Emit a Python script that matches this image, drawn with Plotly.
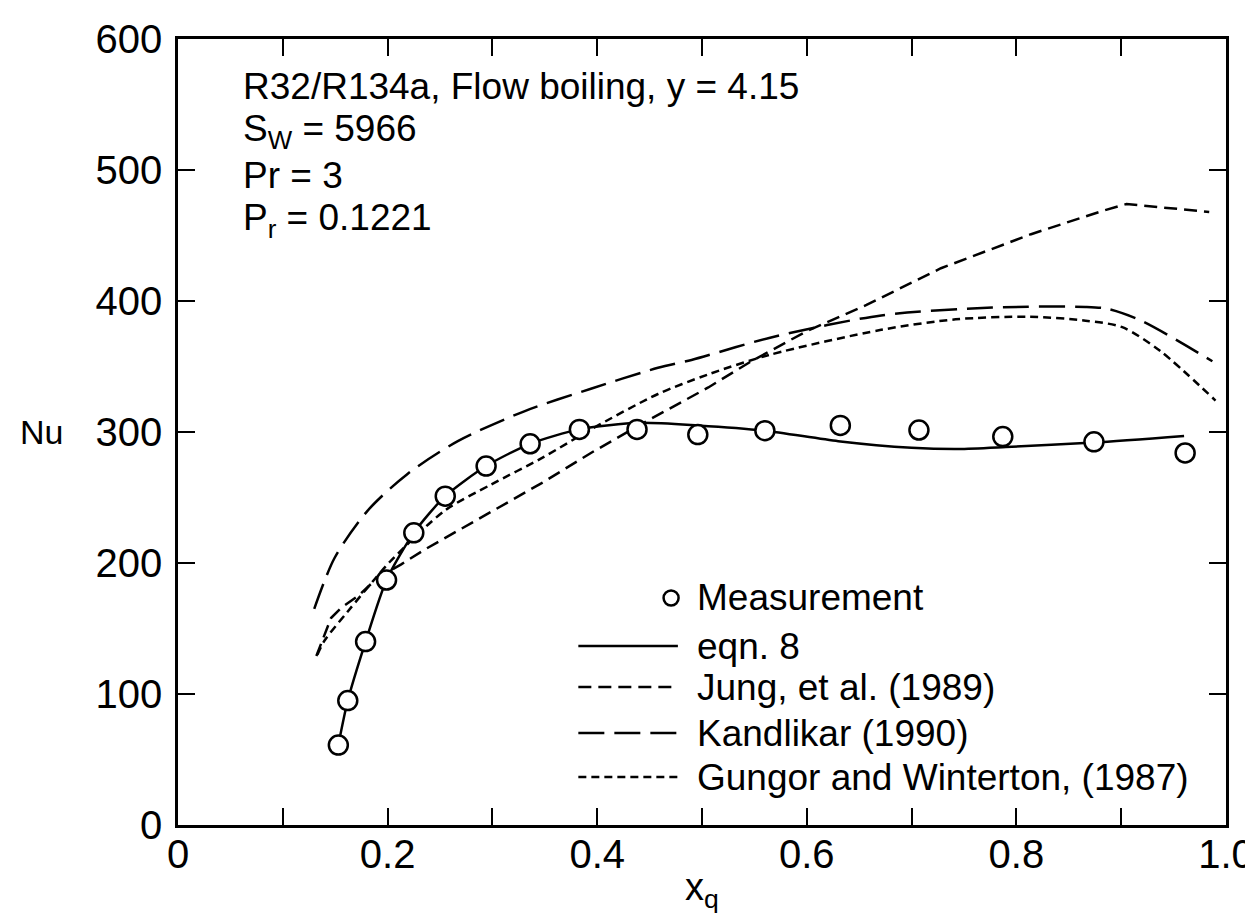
import plotly.graph_objects as go

# ---------------- data ----------------
meas_x = [0.153, 0.162, 0.179, 0.199, 0.225, 0.255, 0.294, 0.336, 0.383, 0.438, 0.496,
          0.560, 0.632, 0.707, 0.787, 0.874, 0.961]
meas_y = [61, 95, 140, 187, 223, 251, 274, 291, 302, 302, 298,
          301, 305, 301.5, 296.5, 292.5, 284]

eqn8_x = [0.153, 0.162, 0.179, 0.199, 0.225, 0.255, 0.294, 0.336, 0.383, 0.44, 0.496,
          0.56, 0.63, 0.70, 0.745, 0.79, 0.874, 0.96]
eqn8_y = [61, 95, 140, 187, 223, 251, 274, 291, 302, 307, 305,
          301, 293, 288, 287, 288.5, 292, 297]

jung_x = [0.132, 0.146, 0.156, 0.172, 0.191, 0.213, 0.237, 0.2545, 0.299, 0.347, 0.394,
          0.442, 0.506, 0.547, 0.600, 0.657, 0.728, 0.814, 0.881, 0.905, 0.984]
jung_y = [129, 158, 166, 175, 189, 199, 211, 219, 239, 261, 284,
          306, 334, 354, 377, 397, 425, 451, 468.5, 474, 468]

kand_x = [0.130, 0.1495, 0.181, 0.219, 0.267, 0.331, 0.394, 0.458, 0.49, 0.565,
          0.671, 0.777, 0.866, 0.887, 0.919, 0.987]
kand_y = [165, 204, 240, 268, 293, 316, 333, 349, 355, 372,
          389, 395, 395.5, 394, 385, 354]

gung_x = [0.133, 0.140, 0.162, 0.188, 0.2035, 0.2545, 0.299, 0.347, 0.394, 0.458, 0.506,
          0.565, 0.671, 0.742, 0.813, 0.866, 0.901, 0.937, 0.99]
gung_y = [130, 141, 163, 188, 202, 240, 260, 280, 302, 329, 344,
          359, 378, 386, 388, 385, 380, 362, 324]

x_tickvals = [0, 0.2, 0.4, 0.6, 0.8, 1.0]
x_ticktext = ["0", "0.2", "0.4", "0.6", "0.8", "1.0"]
y_tickvals = [0, 100, 200, 300, 400, 500, 600]

info_lines = ["R32/R134a, Flow boiling, y = 4.15",
              "S<sub>W</sub> = 5966",
              "Pr = 3",
              "P<sub>r</sub> = 0.1221"]
legend_names = ["Measurement", "eqn. 8", "Jung, et al. (1989)",
                "Kandlikar (1990)", "Gungor and Winterton, (1987)"]

# ---------------- styles ----------------
FONT = "Liberation Sans, Arial, Helvetica, sans-serif"
LW = 2.5
dash_jung = "13px,7px"
dash_kand = "26px,10px"
dash_gung = "8px,5px"

fig = go.Figure()

fig.add_trace(go.Scatter(x=jung_x, y=jung_y, mode="lines", name=legend_names[2],
                         line=dict(color="black", width=LW, dash=dash_jung),
                         showlegend=False))
fig.add_trace(go.Scatter(x=kand_x, y=kand_y, mode="lines", name=legend_names[3],
                         line=dict(color="black", width=LW, dash=dash_kand, shape="spline",
                                   smoothing=0.8),
                         showlegend=False))
fig.add_trace(go.Scatter(x=gung_x, y=gung_y, mode="lines", name=legend_names[4],
                         line=dict(color="black", width=LW, dash=dash_gung, shape="spline",
                                   smoothing=0.8),
                         showlegend=False))
fig.add_trace(go.Scatter(x=eqn8_x, y=eqn8_y, mode="lines", name=legend_names[1],
                         line=dict(color="black", width=LW, shape="spline", smoothing=0.7),
                         showlegend=False))
fig.add_trace(go.Scatter(x=meas_x, y=meas_y, mode="markers", name=legend_names[0],
                         marker=dict(symbol="circle", size=19, color="white",
                                     line=dict(color="black", width=2.5)),
                         showlegend=False))

# ---------- manual legend (positions in data coordinates) ----------
leg_rows = [173.3, 136.6, 105.3, 70.2, 36.6]
leg_x0, leg_x1, leg_tx = 0.382, 0.477, 0.493
dashes = [None, "solid", dash_jung, dash_kand, dash_gung]
shapes = []
annotations = []
for i, name in enumerate(legend_names):
    yv = leg_rows[i]
    if i == 0:
        shapes.append(dict(type="circle", xref="x", yref="y", xsizemode="pixel",
                           ysizemode="pixel", xanchor=0.4705, yanchor=yv,
                           x0=-7.5, x1=7.5, y0=-7.5, y1=7.5,
                           line=dict(color="black", width=2.5), fillcolor="white"))
    else:
        shapes.append(dict(type="line", xref="x", yref="y", x0=leg_x0, x1=leg_x1,
                           y0=yv, y1=yv, line=dict(color="black", width=LW, dash=dashes[i])))
    annotations.append(dict(x=leg_tx, y=yv, xref="x", yref="y", text=name,
                            showarrow=False, xanchor="left", yanchor="middle",
                            font=dict(family=FONT, size=37, color="black")))

info_y = [563.5, 530, 495.5, 462]
for t, yv in zip(info_lines, info_y):
    annotations.append(dict(x=0.060, y=yv, xref="x", yref="y", text=t,
                            showarrow=False, xanchor="left", yanchor="middle",
                            font=dict(family=FONT, size=37, color="black")))

annotations.append(dict(x=-0.130, y=300, xref="paper", yref="y", text="Nu",
                        showarrow=False, xanchor="center", yanchor="middle",
                        font=dict(family=FONT, size=34, color="black")))
annotations.append(dict(x=0.5, y=-0.05, xref="paper", yref="paper", text="x<sub>q</sub>",
                        showarrow=False, xanchor="center", yanchor="top",
                        font=dict(family=FONT, size=38, color="black")))

axis_common = dict(showline=True, linecolor="black", linewidth=2.5, mirror="ticks",
                   ticks="inside", ticklen=17, tickwidth=2, tickcolor="black",
                   showgrid=False, zeroline=False, automargin=False,
                   tickfont=dict(family=FONT, size=40, color="black"))

fig.update_layout(
    width=1253, height=914,
    margin=dict(l=170, r=35, t=31, b=97),
    paper_bgcolor="white", plot_bgcolor="white",
    showlegend=False,
    xaxis=dict(range=[0, 1.0], tickmode="array", tickvals=x_tickvals,
               ticktext=x_ticktext, ticklabelstandoff=-8,
               minor=dict(tickmode="linear", tick0=0, dtick=0.1, ticks="inside",
                          ticklen=17, tickwidth=2, tickcolor="black", showgrid=False),
               **axis_common),
    yaxis=dict(range=[0, 600], tickmode="array", tickvals=y_tickvals,
               ticklabelstandoff=5, **axis_common),
    shapes=shapes,
    annotations=annotations,
)

fig.write_html("out.html")
